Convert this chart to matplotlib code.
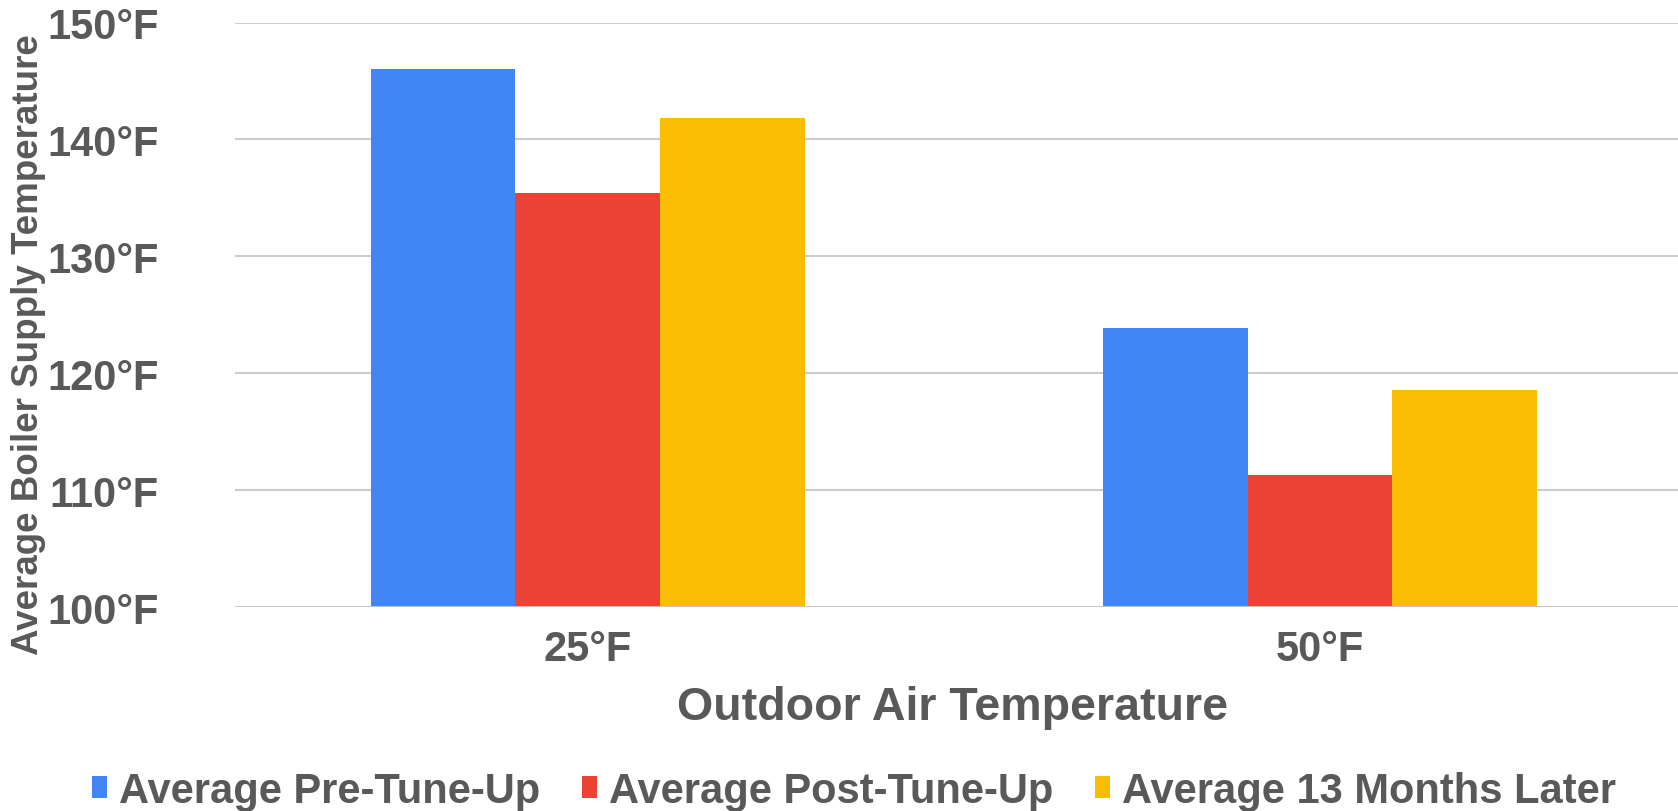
import matplotlib.pyplot as plt
import numpy as np

# Data
categories = ['25°F', '50°F']
series_names = ['Average Pre-Tune-Up', 'Average Post-Tune-Up', 'Average 13 Months Later']
pre_tune = [146.0, 123.9]
post_tune = [135.4, 111.3]
later_13m = [141.8, 118.6]
yticks = [100, 110, 120, 130, 140, 150]
colors = ['#4285F4', '#EA4335', '#FBBC04']

plt.rcParams['font.family'] = ['Liberation Sans', 'DejaVu Sans']
text_color = '#595959'

fig = plt.figure(figsize=(16.78, 8.12), dpi=100)
ax = fig.add_axes([0.140, 0.251, 0.860, 0.720])

x = np.arange(len(categories))
width = 0.1977
for i, (vals, name) in enumerate(zip([pre_tune, post_tune, later_13m], series_names)):
    ax.bar(x + (i - 1) * width, np.array(vals) - 100, width, bottom=100,
           color=colors[i], label=name, zorder=3)

ax.set_ylim(100, 150)
ax.set_xlim(-0.482, 1.489)
ax.set_yticks(yticks)
ax.set_yticklabels([f'{t}°F' for t in yticks])
ax.set_xticks(x)
ax.set_xticklabels(categories)

# Grid and spines
ax.grid(axis='y', color='#cccccc', linewidth=1.5, zorder=0)
for s in ax.spines.values():
    s.set_visible(False)
ax.axhline(100, color='#c8c8c8', linewidth=2, zorder=4)

ax.tick_params(axis='y', length=0, pad=55, labelsize=30, labelcolor=text_color)
ax.tick_params(axis='x', length=0, pad=16, labelsize=30, labelcolor=text_color)
for lbl in ax.get_xticklabels() + ax.get_yticklabels():
    lbl.set_fontweight('bold')

ax.set_ylabel('Average Boiler Supply Temperature', fontsize=26.5, fontweight='bold', color=text_color)
ax.yaxis.set_label_coords(-0.131, 0.45)
ax.set_xlabel('Outdoor Air Temperature', fontsize=33.5, fontweight='bold', color=text_color)
ax.xaxis.set_label_coords(0.497, -0.133)

fig.legend(loc='center', bbox_to_anchor=(0.509, 0.025), ncol=3, frameon=False,
           prop={'size': 30, 'weight': 'bold'}, labelcolor=text_color,
           handlelength=0.35, handleheight=0.45, handletextpad=0.3, columnspacing=1.0)

fig.savefig('out.png', dpi=100)
